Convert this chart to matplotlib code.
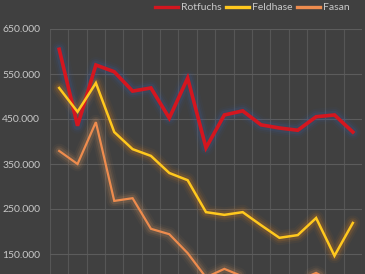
import matplotlib
matplotlib.use("Agg")
import matplotlib.pyplot as plt
from matplotlib.ticker import FuncFormatter
import numpy as np

years = list(range(1, 18))
rotfuchs = [605000, 435000, 570000, 555000, 512000, 519000, 452000, 541000, 386000,
            459000, 468000, 437000, 430000, 425000, 455000, 459000, 421000]
feldhase = [519000, 466000, 530000, 421000, 383000, 368000, 330000, 314000, 243000,
            237000, 243000, 214000, 186000, 192000, 230000, 146000, 219000]
fasan = [379000, 350000, 443000, 268000, 274000, 206000, 194000, 152000, 98000,
         117000, 100000, 92000, 88000, 90000, 108000, 85000, 80000]
series_names = ["Rotfuchs", "Feldhase", "Fasan"]
yticks = [150000, 250000, 350000, 450000, 550000, 650000]

W, H = 365, 274
fig = plt.figure(figsize=(W / 100, H / 100), dpi=100)
bg = "#404040"
fig.patch.set_facecolor(bg)

left, right, top, bottom = 50, 362, 29, 299
ax = fig.add_axes([left / W, (H - bottom) / H, (right - left) / W, (bottom - top) / H])
ax.set_facecolor(bg)

x = np.arange(len(years))
ax.set_xlim(-0.5, len(years) - 0.5)
ax.set_ylim(50000, 650000)

ax.set_xticks(np.arange(-0.5, len(years), 1.0), minor=True)
ax.set_xticks([])
ax.grid(True, which="minor", axis="x", color="#565656", lw=0.8)
ax.set_yticks(yticks)
ax.grid(True, which="major", axis="y", color="#5c5c5c", lw=0.8)
ax.set_axisbelow(True)
for s in ax.spines.values():
    s.set_visible(False)

ax.yaxis.set_major_formatter(FuncFormatter(lambda v, p: f"{int(v):,}".replace(",", ".")))
ax.tick_params(axis="y", length=0, pad=7, labelsize=7.5, labelcolor="#c8c8c8")
ax.tick_params(axis="x", which="both", length=0)
for lab in ax.get_yticklabels():
    lab.set_fontfamily("Lato")

colors = ["#d4161f", "#ffc81e", "#ee8c4e"]
glows = ["#3b5a9a", "#d07a20", "#c88a5a"]
widths = [2.6, 1.8, 1.6]
data = [rotfuchs, feldhase, fasan]

for d, c, g, w in zip(data, colors, glows, widths):
    for k, a in [(9, 0.06), (6, 0.10), (3.5, 0.18)]:
        ax.plot(x, d, color=g, lw=w + k, alpha=a, solid_joinstyle="round",
                solid_capstyle="round", zorder=2)

for d, c, w, n in zip(data, colors, widths, series_names):
    ax.plot(x, d, color=c, lw=w, zorder=3, label=n, solid_joinstyle="miter")

leg = fig.legend(loc="upper left", bbox_to_anchor=(153 / W, 1 - 1 / H), ncol=3, frameon=False,
                 handlelength=2.2, handletextpad=0.3, columnspacing=0.4,
                 borderaxespad=0, borderpad=0.2,
                 prop={"family": "Lato", "size": 7.5})
for t in leg.get_texts():
    t.set_color("#c8c8c8")
for l in leg.get_lines():
    l.set_linewidth(2.4)

fig.savefig("out.png", dpi=100, facecolor=bg)
